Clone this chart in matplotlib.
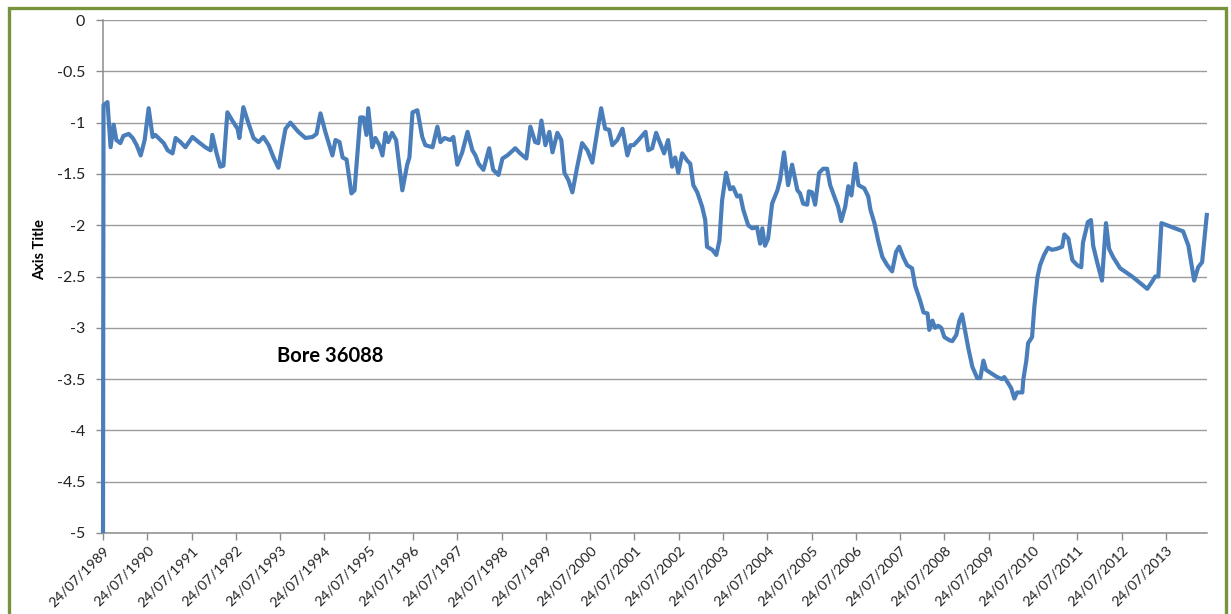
import datetime as dt
import matplotlib
matplotlib.use("Agg")
import matplotlib.pyplot as plt
import matplotlib.dates as mdates
from matplotlib.patches import Rectangle
from matplotlib.ticker import FuncFormatter

# Bore 36088 water level readings: decimal year, level
years = [
    1989.56, 1989.57, 1989.66, 1989.73, 1989.80, 1989.86, 1989.95, 1990.02, 1990.14, 1990.23,
    1990.32, 1990.41, 1990.50, 1990.59, 1990.68, 1990.74, 1990.86, 1990.93, 1991.02, 1991.13,
    1991.20, 1991.31, 1991.42, 1991.58, 1991.72, 1991.87, 1991.99, 1992.03, 1992.12, 1992.21,
    1992.28, 1992.37, 1992.48, 1992.60, 1992.64, 1992.73, 1992.84, 1992.96, 1993.07, 1993.18,
    1993.30, 1993.41, 1993.52, 1993.61, 1993.68, 1993.79, 1993.97, 1994.13, 1994.29, 1994.38,
    1994.47, 1994.58, 1994.74, 1994.81, 1994.90, 1994.97, 1995.06, 1995.17, 1995.24, 1995.37,
    1995.44, 1995.51, 1995.55, 1995.64, 1995.71, 1995.80, 1995.87, 1995.94, 1996.00, 1996.09,
    1996.18, 1996.32, 1996.43, 1996.48, 1996.55, 1996.66, 1996.77, 1996.84, 1997.00, 1997.11,
    1997.18, 1997.27, 1997.40, 1997.47, 1997.56, 1997.67, 1997.79, 1997.90, 1997.97, 1998.04,
    1998.15, 1998.28, 1998.37, 1998.49, 1998.58, 1998.69, 1998.87, 1998.98, 1999.12, 1999.21,
    1999.32, 1999.39, 1999.46, 1999.55, 1999.64, 1999.71, 1999.82, 1999.91, 1999.98, 2000.07,
    2000.16, 2000.27, 2000.38, 2000.50, 2000.61, 2000.72, 2000.81, 2000.90, 2000.99, 2001.06,
    2001.17, 2001.29, 2001.40, 2001.47, 2001.54, 2001.65, 2001.81, 2001.87, 2001.96, 2002.05,
    2002.14, 2002.23, 2002.32, 2002.41, 2002.48, 2002.55, 2002.64, 2002.75, 2002.82, 2002.89,
    2002.98, 2003.09, 2003.16, 2003.20, 2003.32, 2003.41, 2003.48, 2003.54, 2003.63, 2003.72,
    2003.79, 2003.88, 2003.95, 2004.02, 2004.13, 2004.22, 2004.33, 2004.40, 2004.45, 2004.51,
    2004.58, 2004.67, 2004.79, 2004.85, 2004.94, 2005.03, 2005.12, 2005.24, 2005.30, 2005.37,
    2005.46, 2005.50, 2005.57, 2005.64, 2005.73, 2005.82, 2005.91, 2005.98, 2006.09, 2006.16,
    2006.23, 2006.32, 2006.39, 2006.46, 2006.55, 2006.62, 2006.75, 2006.84, 2006.89, 2006.98,
    2007.07, 2007.16, 2007.27, 2007.38, 2007.47, 2007.54, 2007.63, 2007.72, 2007.83, 2007.90,
    2008.01, 2008.09, 2008.18, 2008.22, 2008.29, 2008.35, 2008.42, 2008.49, 2008.56, 2008.67,
    2008.74, 2008.83, 2008.90, 2008.96, 2009.01, 2009.10, 2009.19, 2009.30, 2009.37, 2009.44,
    2009.50, 2009.64, 2009.75, 2009.86, 2009.91, 2010.00, 2010.07, 2010.14, 2010.20, 2010.32,
    2010.34, 2010.41, 2010.45, 2010.54, 2010.59, 2010.66, 2010.72, 2010.81, 2010.90, 2010.99,
    2011.10, 2011.22, 2011.27, 2011.36, 2011.45, 2011.56, 2011.65, 2011.69, 2011.80, 2011.87,
    2011.92, 2012.01, 2012.12, 2012.21, 2012.28, 2012.37, 2012.53, 2012.80, 2013.14, 2013.25,
    2013.32, 2013.39, 2013.46, 2013.95, 2014.07, 2014.20, 2014.29, 2014.38, 2014.49,
]
levels = [
    -5.00, -0.83, -0.80, -1.24, -1.02, -1.17, -1.20, -1.13, -1.11, -1.15,
    -1.22, -1.32, -1.17, -0.86, -1.14, -1.12, -1.17, -1.20, -1.27, -1.30,
    -1.15, -1.19, -1.24, -1.14, -1.19, -1.24, -1.27, -1.12, -1.29, -1.43,
    -1.42, -0.90, -0.98, -1.06, -1.15, -0.85, -1.00, -1.15, -1.19, -1.14,
    -1.22, -1.34, -1.44, -1.22, -1.06, -1.00, -1.09, -1.15, -1.14, -1.11,
    -0.91, -1.09, -1.32, -1.17, -1.19, -1.34, -1.36, -1.69, -1.66, -0.95,
    -0.95, -1.12, -0.86, -1.24, -1.15, -1.22, -1.32, -1.10, -1.19, -1.10,
    -1.17, -1.66, -1.41, -1.34, -0.90, -0.88, -1.14, -1.22, -1.24, -1.04,
    -1.19, -1.15, -1.17, -1.14, -1.41, -1.29, -1.09, -1.27, -1.32, -1.40,
    -1.46, -1.25, -1.46, -1.51, -1.35, -1.32, -1.25, -1.30, -1.35, -1.04,
    -1.19, -1.20, -0.98, -1.22, -1.09, -1.29, -1.10, -1.17, -1.49, -1.56,
    -1.68, -1.43, -1.20, -1.27, -1.39, -1.09, -0.86, -1.06, -1.07, -1.22,
    -1.17, -1.06, -1.32, -1.22, -1.22, -1.17, -1.09, -1.27, -1.25, -1.10,
    -1.20, -1.30, -1.17, -1.43, -1.34, -1.49, -1.30, -1.37, -1.40, -1.61,
    -1.68, -1.82, -1.95, -2.21, -2.24, -2.29, -2.15, -1.76, -1.49, -1.65,
    -1.63, -1.72, -1.71, -1.85, -2.00, -2.03, -2.02, -2.18, -2.03, -2.20,
    -2.13, -1.79, -1.66, -1.56, -1.29, -1.61, -1.41, -1.66, -1.69, -1.79,
    -1.80, -1.67, -1.68, -1.80, -1.49, -1.45, -1.45, -1.61, -1.74, -1.82,
    -1.96, -1.82, -1.62, -1.71, -1.40, -1.61, -1.64, -1.72, -1.85, -1.98,
    -2.16, -2.31, -2.39, -2.45, -2.26, -2.21, -2.31, -2.39, -2.42, -2.59,
    -2.73, -2.85, -2.86, -3.02, -2.93, -3.00, -2.98, -3.00, -3.09, -3.12,
    -3.13, -3.07, -2.93, -2.87, -2.99, -3.20, -3.38, -3.49, -3.49, -3.32,
    -3.41, -3.45, -3.48, -3.50, -3.48, -3.54, -3.59, -3.69, -3.63, -3.63,
    -3.51, -3.32, -3.15, -3.09, -2.80, -2.51, -2.39, -2.29, -2.22, -2.24,
    -2.23, -2.21, -2.09, -2.13, -2.34, -2.39, -2.41, -2.17, -1.97, -1.95,
    -2.20, -2.36, -2.54, -1.98, -2.23, -2.31, -2.42, -2.50, -2.62, -2.55,
    -2.50, -2.50, -1.98, -2.06, -2.20, -2.54, -2.41, -2.36, -1.88,
]
tick_years = list(range(1989, 2014))
y_ticks = [0, -0.5, -1, -1.5, -2, -2.5, -3, -3.5, -4, -4.5, -5]


def to_date(y):
    yr = int(y)
    return dt.datetime(yr, 1, 1) + dt.timedelta(days=(y - yr) * 365.25)


dates = [to_date(y) for y in years]
dates[0] = dt.datetime(1989, 7, 24)

plt.rcParams['font.family'] = ['Lato', 'DejaVu Sans']

fig = plt.figure(figsize=(12.31, 6.14), dpi=100)
ax = fig.add_axes([103 / 1231, 81 / 614, 1104 / 1231, 513 / 614])

# no clipping, so the first reading on the left edge keeps its full width
ax.plot(dates, levels, color='#4A7EBB', lw=3.0, solid_joinstyle='round',
        solid_capstyle='butt', zorder=3, clip_on=False)

ax.set_ylim(-5, 0)
ax.set_yticks(y_ticks)
ax.yaxis.set_major_formatter(FuncFormatter(lambda v, p: f'{v:g}'))
ax.set_xlim(dt.datetime(1989, 7, 24), dates[-1])
ax.set_xticks([dt.datetime(y, 7, 24) for y in tick_years])
ax.xaxis.set_major_formatter(mdates.DateFormatter('%d/%m/%Y'))

ax.grid(axis='y', color='#9C9C9C', lw=1.0)
ax.set_axisbelow(True)
for s in ['top', 'right']:
    ax.spines[s].set_visible(False)
for s in ['left', 'bottom']:
    ax.spines[s].set_color('#8C8C8C')
    ax.spines[s].set_linewidth(1.1)
ax.spines['left'].set_zorder(2)
ax.tick_params(axis='both', colors='#8C8C8C', length=5, width=1, labelcolor='#222222')
ax.tick_params(axis='y', pad=8, labelsize=11.5)
ax.tick_params(axis='x', pad=3, labelsize=10.3)
for lbl in ax.get_xticklabels():
    lbl.set_rotation(45)
    lbl.set_ha('right')
    lbl.set_rotation_mode('anchor')

fig.text(40 / 1231, 1 - 250 / 614, 'Axis Title', rotation=90, ha='center', va='center',
         fontsize=10.5, fontweight='bold')
ax.text(0.158, 0.345, 'Bore 36088', transform=ax.transAxes, fontsize=14.5,
        fontweight='bold', va='center', ha='left')

# green frame around the chart area, bottom edge runs off the canvas
frame = Rectangle((8.5 / 1231, -0.1), (1226 - 8.5) / 1231, 1.1 - 8.5 / 614,
                  transform=fig.transFigure, fill=False, edgecolor='#77933C', lw=2.4,
                  clip_on=False)
fig.patches.append(frame)

fig.savefig('out.png', dpi=100)
